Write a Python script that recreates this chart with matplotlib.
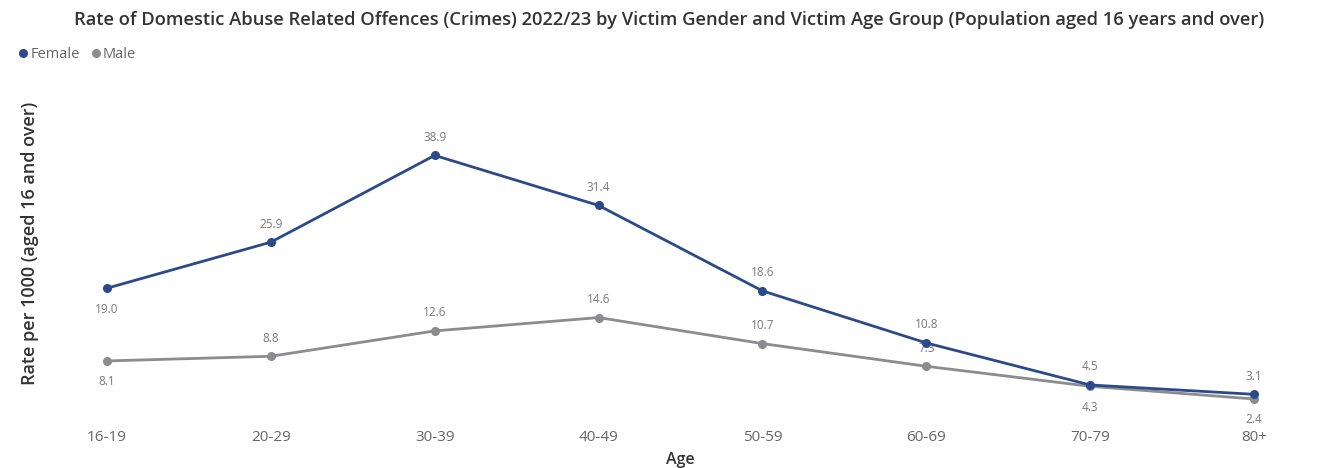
import matplotlib
matplotlib.use("Agg")
import matplotlib.pyplot as plt
from matplotlib.lines import Line2D

plt.rcParams['font.family'] = ['Open Sans', 'DejaVu Sans']

age_groups = ["16-19", "20-29", "30-39", "40-49", "50-59", "60-69", "70-79", "80+"]
female = [19.0, 25.9, 38.9, 31.4, 18.6, 10.8, 4.5, 3.1]
male = [8.1, 8.8, 12.6, 14.6, 10.7, 7.3, 4.3, 2.4]
female_label_pos = ["below", "above", "above", "above", "above", "above", "above", "above"]
male_label_pos = ["below", "above", "above", "above", "above", "above", "below", "below"]

female_color = "#2B4A8B"
male_color = "#8C8C90"
text_color = "#666666"
label_color = "#7A7A7A"

W, H = 1325, 468
fig = plt.figure(figsize=(W / 100, H / 100), dpi=100)
left_px, right_px, top_px, bottom_px = 60, 1300, 100, 415
ax = fig.add_axes([left_px / W, 1 - bottom_px / H, (right_px - left_px) / W, (bottom_px - top_px) / H])

x = list(range(len(age_groups)))
ax.plot(x, male, color=male_color, lw=2.0, marker="o", ms=5.5, zorder=2)
ax.plot(x, female, color=female_color, lw=2.0, marker="o", ms=5.5, zorder=3)

def add_labels(vals, positions, zorder):
    for xi, v, p in zip(x, vals, positions):
        off = 13 if p == "above" else -15
        ax.annotate(f"{v:.1f}", (xi, v), xytext=(0, off), textcoords="offset points",
                    ha="center", va="center", fontsize=8.5, color=label_color, zorder=zorder)

add_labels(male, male_label_pos, 1)
add_labels(female, female_label_pos, 4)

ax.set_xlim(-0.287, 7.281)
ax.set_ylim(0, 47.2)
ax.set_xticks(x)
ax.set_xticklabels(age_groups, fontsize=11, color=text_color)
ax.tick_params(axis="x", length=0, pad=11)
ax.set_yticks([])
for s in ax.spines.values():
    s.set_visible(False)

ax.set_xlabel("Age", fontsize=11.5, color="#333333", labelpad=5, fontweight="semibold")
fig.text(30 / W, 1 - 243 / H, "Rate per 1000 (aged 16 and over)", rotation=90,
         ha="center", va="center", fontsize=13, color="#333333", fontweight="semibold")

fig.text(669 / W, 1 - 20 / H,
         "Rate of Domestic Abuse Related Offences (Crimes) 2022/23 by Victim Gender and Victim Age Group (Population aged 16 years and over)",
         ha="center", va="center", fontsize=13.2, color="#333333", fontweight="semibold")

handles = [Line2D([], [], color=female_color, marker="o", ls="none", ms=5.5),
           Line2D([], [], color=male_color, marker="o", ls="none", ms=5.5)]
fig.legend(handles, ["Female", "Male"], loc="center left", bbox_to_anchor=(10 / W, 1 - 55 / H),
           ncol=2, frameon=False, fontsize=10.5, labelcolor=text_color,
           handletextpad=0.0, columnspacing=0.6, handlelength=1.0, borderaxespad=0)

fig.savefig("out.png", dpi=100)
